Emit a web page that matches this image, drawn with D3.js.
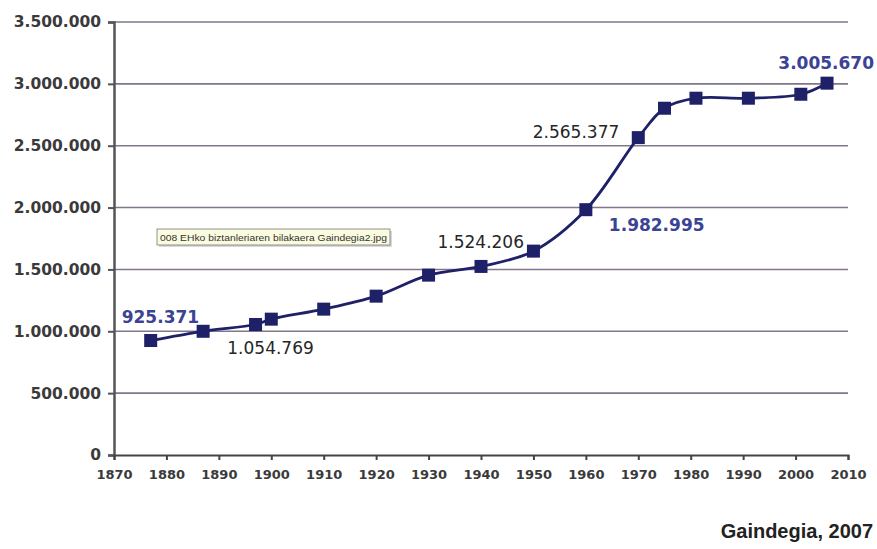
<!DOCTYPE html>
<html>
<head>
<meta charset="utf-8">
<script src="https://cdn.jsdelivr.net/npm/d3@7"></script>
<style>
  body { margin: 0; background: #fff; }
  svg { display: block; }
</style>
</head>
<body>
<div id="chart"></div>
<script>
// Euskal Herriko biztanleria, 1877-2006
const years = [1877, 1887, 1897, 1900, 1910, 1920, 1930, 1940, 1950, 1960, 1970, 1975, 1981, 1991, 2001, 2006];
const population = [925371, 1000000, 1054769, 1098000, 1179000, 1284000, 1454000, 1524206, 1648000, 1982995, 2565377, 2803000, 2884000, 2884000, 2916000, 3005670];
const yTicks = [0, 500000, 1000000, 1500000, 2000000, 2500000, 3000000, 3500000];
const xTicks = [1870, 1880, 1890, 1900, 1910, 1920, 1930, 1940, 1950, 1960, 1970, 1980, 1990, 2000, 2010];
const labelledYears = [1877, 1897, 1940, 1960, 1970, 2006];
const highlightYears = [1877, 1960, 2006];
const tooltipText = '008 EHko biztanleriaren bilakaera Gaindegia2.jpg';
const source = 'Gaindegia, 2007';

// where each value label sits relative to its marker
const labelPlace = {
  1877: { dx: -29, dy: -18, anchor: 'start' },
  1897: { dx: 15, dy: 29, anchor: 'middle' },
  1940: { dx: 43, dy: -18, anchor: 'end' },
  1960: { dx: 23, dy: 21, anchor: 'start' },
  1970: { dx: -19, dy: 0, anchor: 'end' },
  2006: { dx: 47, dy: -14, anchor: 'end' }
};

const width = 877, height = 549;
const navy = '#1e2068';
const blueText = '#3a4394';

const fmt = d3.formatLocale({ decimal: ',', thousands: '.', grouping: [3], currency: ['', ''] }).format(',d');

const svg = d3.select('#chart').append('svg')
  .attr('width', width)
  .attr('height', height)
  .style('font-family', '"DejaVu Sans", Verdana, sans-serif');

const x = d3.scaleLinear().domain([1870, 2010]).range([114, 848]);
const y = d3.scaleLinear().domain([0, 3500000]).range([455, 22]);

// gridlines
svg.append('g')
  .selectAll('line')
  .data(yTicks.filter(d => d > 0))
  .join('line')
    .attr('x1', x(1870))
    .attr('x2', x(2010))
    .attr('y1', d => y(d))
    .attr('y2', d => y(d))
    .attr('stroke', '#82768a')
    .attr('stroke-width', 1.6);

// y axis
const yAxis = svg.append('g')
  .attr('transform', `translate(${x(1870)},0)`)
  .call(d3.axisLeft(y).tickValues(yTicks).tickFormat(fmt).tickSize(6).tickPadding(7));
yAxis.select('.domain').attr('stroke', '#555').attr('stroke-width', 2.5);
yAxis.selectAll('.tick line').attr('stroke', '#555').attr('stroke-width', 2);
yAxis.selectAll('.tick text')
  .attr('fill', '#3a3a3a')
  .style('font-size', '15.5px')
  .style('font-weight', 'bold')
  .style('font-family', '"DejaVu Sans", Verdana, sans-serif');

// x axis
const xAxis = svg.append('g')
  .attr('transform', `translate(0,${y(0)})`)
  .call(d3.axisBottom(x).tickValues(xTicks).tickFormat(d3.format('d')).tickSize(5).tickPadding(10));
xAxis.select('.domain').attr('stroke', '#444').attr('stroke-width', 2);
xAxis.selectAll('.tick line').attr('stroke', '#444').attr('stroke-width', 2);
xAxis.selectAll('.tick text')
  .attr('fill', '#3a3a3a')
  .style('font-size', '13px')
  .style('font-weight', 'bold')
  .style('font-family', '"DejaVu Sans", Verdana, sans-serif');

const points = years.map((yr, i) => ({ year: yr, value: population[i] }));

// smoothed line
const line = d3.line()
  .x(d => x(d.year))
  .y(d => y(d.value))
  .curve(d3.curveCatmullRom.alpha(0.5));

svg.append('path')
  .datum(points)
  .attr('fill', 'none')
  .attr('stroke', navy)
  .attr('stroke-width', 2.8)
  .attr('d', line);

// square markers
const ms = 13;
svg.append('g')
  .selectAll('rect')
  .data(points)
  .join('rect')
    .attr('x', d => x(d.year) - ms / 2)
    .attr('y', d => y(d.value) - ms / 2)
    .attr('width', ms)
    .attr('height', ms)
    .attr('fill', navy);

// value labels
svg.append('g')
  .selectAll('text')
  .data(points.filter(d => labelledYears.includes(d.year)))
  .join('text')
    .attr('x', d => x(d.year) + labelPlace[d.year].dx)
    .attr('y', d => y(d.value) + labelPlace[d.year].dy)
    .attr('text-anchor', d => labelPlace[d.year].anchor)
    .attr('fill', d => highlightYears.includes(d.year) ? blueText : '#262626')
    .style('font-size', '17px')
    .style('font-weight', d => highlightYears.includes(d.year) ? 'bold' : 'normal')
    .text(d => fmt(d.value));

// image tooltip box
const tip = svg.append('g').attr('transform', 'translate(157,229)');
tip.append('rect')
  .attr('x', 2).attr('y', 2)
  .attr('width', 233).attr('height', 16)
  .attr('fill', '#d8d8d8');
tip.append('rect')
  .attr('width', 233).attr('height', 16)
  .attr('fill', '#fbfbe0')
  .attr('stroke', '#777')
  .attr('stroke-width', 0.8);
tip.append('text')
  .attr('x', 3).attr('y', 11.5)
  .attr('fill', '#333')
  .style('font-family', '"Liberation Sans", Arial, sans-serif')
  .style('font-size', '9px')
  .attr('textLength', 227)
  .attr('lengthAdjust', 'spacingAndGlyphs')
  .text(tooltipText);

// source
svg.append('text')
  .attr('x', 873)
  .attr('y', 538)
  .attr('text-anchor', 'end')
  .attr('fill', '#222')
  .style('font-family', '"Liberation Sans", Arial, sans-serif')
  .style('font-size', '20px')
  .style('font-weight', 'bold')
  .text(source);
</script>
</body>
</html>
